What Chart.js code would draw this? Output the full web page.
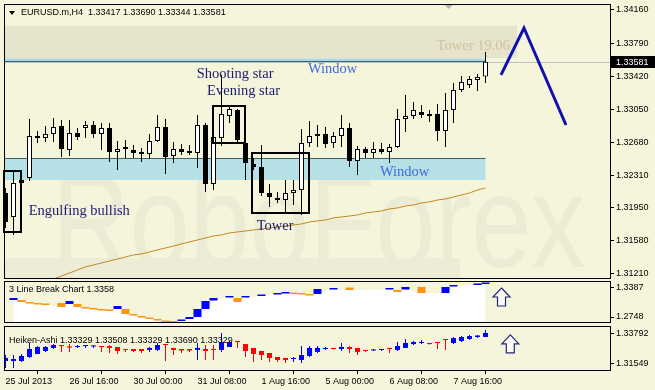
<!DOCTYPE html>
<html>
<head>
<meta charset="utf-8">
<script src="https://cdn.jsdelivr.net/npm/chart.js@4"></script>
<style>
  html, body { margin: 0; padding: 0; background: #F5F5DC; }
  #wrap { position: relative; width: 655px; height: 390px; overflow: hidden; background: #F5F5DC; }
  canvas { position: absolute; left: 0; }
</style>
</head>
<body>
<div id="wrap">
  <canvas id="chartMain" width="655" height="279" style="top:0px"></canvas>
  <canvas id="chartBreak" width="655" height="44" style="top:280px"></canvas>
  <canvas id="chartHeiken" width="655" height="65" style="top:325px"></canvas>
</div>
<script>
// ---- values (H4 bars, index 0 = 25 Jul 2013 00:00) ----
const timeLabels = ['25 Jul 2013', '26 Jul 16:00', '30 Jul 00:00', '31 Jul 08:00', '1 Aug 16:00', '5 Aug 00:00', '6 Aug 08:00', '7 Aug 16:00'];
const timeLabelBars = [0, 8, 16, 24, 32, 40, 48, 56];

const open = [1.32115, 1.31847, 1.32261, 1.32283, 1.32752, 1.32730, 1.32775, 1.32864, 1.32596, 1.32786,
  1.32842, 1.32875, 1.32775, 1.32842, 1.32574, 1.32618, 1.32596, 1.32574, 1.32551, 1.32696,
  1.32853, 1.32529, 1.32607, 1.32585, 1.32562, 1.32875, 1.32216, 1.32730, 1.32976, 1.33043,
  1.32674, 1.32440, 1.32406, 1.32115, 1.32048, 1.32037, 1.32115, 1.32149, 1.32674, 1.32752,
  1.32775, 1.32674, 1.32752, 1.32842, 1.32473, 1.32607, 1.32562, 1.32607, 1.32574, 1.32629,
  1.32942, 1.32976, 1.33020, 1.32998, 1.32998, 1.32808, 1.33043, 1.33266, 1.33322, 1.33378, 1.33417];
const high = [1.32171, 1.32350, 1.32283, 1.32942, 1.32808, 1.32864, 1.32953, 1.32931, 1.32931, 1.32842,
  1.32920, 1.32920, 1.32898, 1.32898, 1.32696, 1.32708, 1.32652, 1.32618, 1.32775, 1.32987,
  1.32942, 1.32685, 1.32663, 1.32652, 1.32987, 1.32898, 1.32764, 1.33434, 1.33099, 1.33054,
  1.32730, 1.32507, 1.32652, 1.32216, 1.32127, 1.32261, 1.32261, 1.32831, 1.32920, 1.32875,
  1.32853, 1.32797, 1.32987, 1.32898, 1.32641, 1.32629, 1.32685, 1.32674, 1.32663, 1.33054,
  1.33210, 1.33132, 1.33099, 1.33043, 1.33110, 1.33233, 1.33345, 1.33423, 1.33423, 1.33445, 1.33690];
const low = [1.31724, 1.31646, 1.32205, 1.32250, 1.32674, 1.32685, 1.32685, 1.32518, 1.32529, 1.32708,
  1.32730, 1.32730, 1.32596, 1.32462, 1.32372, 1.32507, 1.32507, 1.32462, 1.32495, 1.32685,
  1.32328, 1.32451, 1.32540, 1.32540, 1.32395, 1.32127, 1.32149, 1.32641, 1.32898, 1.32685,
  1.32261, 1.32372, 1.32082, 1.31959, 1.32004, 1.31892, 1.31981, 1.31870, 1.32629, 1.32629,
  1.32618, 1.32618, 1.32629, 1.32406, 1.32317, 1.32507, 1.32507, 1.32551, 1.32451, 1.32618,
  1.32797, 1.32942, 1.32953, 1.32909, 1.32696, 1.32629, 1.32898, 1.33244, 1.33289, 1.33255, 1.33344];
const close = [1.31791, 1.32227, 1.32227, 1.32752, 1.32730, 1.32775, 1.32853, 1.32607, 1.32786, 1.32741,
  1.32875, 1.32775, 1.32842, 1.32574, 1.32607, 1.32607, 1.32562, 1.32551, 1.32696, 1.32853,
  1.32518, 1.32607, 1.32574, 1.32562, 1.32875, 1.32216, 1.32741, 1.32998, 1.33054, 1.32708,
  1.32451, 1.32406, 1.32115, 1.32071, 1.32037, 1.32115, 1.32149, 1.32674, 1.32752, 1.32775,
  1.32663, 1.32752, 1.32842, 1.32473, 1.32607, 1.32562, 1.32607, 1.32574, 1.32629, 1.32942,
  1.32976, 1.33043, 1.32987, 1.32976, 1.32808, 1.33043, 1.33266, 1.33356, 1.33389, 1.33412, 1.33581];

// slow moving average (gold line)
const maValues = [1.30976, 1.31009, 1.31043, 1.31065, 1.31099, 1.31121, 1.31154, 1.31188, 1.31221, 1.31255,
  1.31289, 1.31311, 1.31333, 1.31356, 1.31378, 1.31400, 1.31423, 1.31434, 1.31456, 1.31479,
  1.31501, 1.31523, 1.31546, 1.31568, 1.31590, 1.31613, 1.31635, 1.31646, 1.31669, 1.31680,
  1.31691, 1.31702, 1.31713, 1.31724, 1.31736, 1.31747, 1.31758, 1.31769, 1.31791, 1.31803,
  1.31814, 1.31836, 1.31847, 1.31858, 1.31870, 1.31892, 1.31903, 1.31914, 1.31937, 1.31948,
  1.31970, 1.31981, 1.32004, 1.32015, 1.32037, 1.32048, 1.32071, 1.32093, 1.32115, 1.32149, 1.32171];

// forecast zigzag (bar position, price)
const forecastBars = [61.94, 64.81, 70.06];
const forecastPrices = [1.33434, 1.33959, 1.32875];

const priceTicks = [1.34160, 1.33790, 1.33420, 1.33050, 1.32680, 1.32310, 1.31950, 1.31580, 1.31210];
const bidPrice = 1.33581;

// 3 line break blocks, 1 = up (blue), 0 = down (orange), null = nothing
const breakUp = [null, 1, 0, 0, 0, 0, null, 0, 1, 0,
  0, 0, 0, 0, 1, 0, 0, 0, 0, 0,
  0, 0, 1, 1, 1, 1, 1, null, 1, 0,
  1, null, 1, null, 1, 1, 0, 0, 0, 1,
  null, 1, null, 0, null, null, null, null, 1, 0,
  1, null, 0, null, null, 1, 1, null, null, 1, 1];
const breakHigh = [null, 1.3167, 1.3123, 1.3079, 1.3057, 1.3046, null, 1.3057, 1.3101, 1.3035,
  1.2968, 1.2946, 1.2924, 1.2913, 1.2991, 1.2924, 1.2814, 1.2770, 1.2737, 1.2704,
  1.2671, 1.2660, 1.2693, 1.2748, 1.2924, 1.3101, 1.3167, null, 1.3211, 1.3167,
  1.3211, null, 1.3244, null, 1.3277, 1.3299, 1.3288, 1.3277, 1.3255, 1.3365,
  null, 1.3387, null, 1.3398, null, null, null, null, 1.3387, 1.3343,
  1.3409, null, 1.3409, null, null, 1.3409, 1.3453, null, null, 1.3486, 1.3508];
const breakLow = [null, 1.3123, 1.3079, 1.3046, 1.3024, 1.3013, null, 1.2968, 1.3035, 1.2968,
  1.2935, 1.2913, 1.2891, 1.2880, 1.2924, 1.2814, 1.2781, 1.2737, 1.2704, 1.2671,
  1.2638, 1.2627, 1.2660, 1.2704, 1.2748, 1.2924, 1.3112, null, 1.3178, 1.3079,
  1.3178, null, 1.3211, null, 1.3244, 1.3266, 1.3255, 1.3244, 1.3222, 1.3255,
  null, 1.3354, null, 1.3343, null, null, null, null, 1.3354, 1.3299,
  1.3354, null, 1.3277, null, null, 1.3277, 1.3420, null, null, 1.3453, 1.3475];
const breakTicks = [1.3387, 1.2748];

// Heiken-Ashi
const haOpen = [1.3177, 1.3177, 1.3177, 1.3207, 1.3230, 1.3252, 1.3275, 1.3297, 1.3286, 1.3282,
  1.3289, 1.3286, 1.3289, 1.3289, 1.3282, 1.3267, 1.3267, 1.3267, 1.3260, 1.3260,
  1.3304, 1.3275, 1.3267, 1.3267, 1.3260, 1.3267, 1.3267, 1.3260, 1.3282, 1.3327,
  1.3304, 1.3275, 1.3252, 1.3237, 1.3207, 1.3200, 1.3192, 1.3185, 1.3215, 1.3245,
  1.3267, 1.3275, 1.3267, 1.3282, 1.3275, 1.3260, 1.3256, 1.3260, 1.3275, 1.3260,
  1.3275, 1.3304, 1.3312, 1.3312, 1.3319, 1.3342, 1.3312, 1.3327, 1.3342, 1.3357, 1.3357];
const haHigh = [1.3222, 1.3222, 1.3230, 1.3312, 1.3289, 1.3289, 1.3304, 1.3297, 1.3304, 1.3297,
  1.3297, 1.3297, 1.3289, 1.3297, 1.3282, 1.3267, 1.3267, 1.3267, 1.3282, 1.3312,
  1.3304, 1.3275, 1.3267, 1.3267, 1.3312, 1.3297, 1.3297, 1.3387, 1.3327, 1.3327,
  1.3304, 1.3275, 1.3252, 1.3237, 1.3207, 1.3200, 1.3207, 1.3289, 1.3289, 1.3289,
  1.3282, 1.3275, 1.3312, 1.3289, 1.3275, 1.3260, 1.3267, 1.3267, 1.3275, 1.3319,
  1.3342, 1.3327, 1.3334, 1.3312, 1.3319, 1.3342, 1.3357, 1.3364, 1.3372, 1.3372, 1.3409];
const haLow = [1.3125, 1.3125, 1.3170, 1.3200, 1.3230, 1.3245, 1.3267, 1.3245, 1.3245, 1.3275,
  1.3275, 1.3275, 1.3245, 1.3237, 1.3230, 1.3245, 1.3245, 1.3237, 1.3245, 1.3252,
  1.3177, 1.3222, 1.3237, 1.3245, 1.3185, 1.3185, 1.3185, 1.3245, 1.3282, 1.3275,
  1.3207, 1.3170, 1.3185, 1.3170, 1.3170, 1.3162, 1.3170, 1.3162, 1.3207, 1.3237,
  1.3260, 1.3263, 1.3252, 1.3237, 1.3222, 1.3245, 1.3252, 1.3252, 1.3237, 1.3252,
  1.3275, 1.3297, 1.3304, 1.3300, 1.3267, 1.3260, 1.3304, 1.3319, 1.3334, 1.3349, 1.3357];
const haClose = [1.3200, 1.3192, 1.3215, 1.3267, 1.3282, 1.3282, 1.3297, 1.3289, 1.3278, 1.3289,
  1.3297, 1.3293, 1.3282, 1.3275, 1.3252, 1.3260, 1.3252, 1.3252, 1.3275, 1.3297,
  1.3297, 1.3260, 1.3256, 1.3256, 1.3275, 1.3252, 1.3260, 1.3319, 1.3319, 1.3319,
  1.3252, 1.3230, 1.3222, 1.3200, 1.3185, 1.3185, 1.3200, 1.3222, 1.3275, 1.3275,
  1.3275, 1.3267, 1.3282, 1.3267, 1.3245, 1.3252, 1.3263, 1.3267, 1.3267, 1.3289,
  1.3312, 1.3319, 1.3319, 1.3304, 1.3312, 1.3334, 1.3349, 1.3357, 1.3364, 1.3368, 1.3387];
const haTicks = [1.33792, 1.31549];

// ---- chart objects drawn on the price window (bar position, price) ----
const zones = [
  { from: -0.19, to: 63.94, top: 1.33981, bottom: 1.33624, fill: '#E6E4CC', line: null },
  { from: -0.19, to: 60.0, top: 1.33618, bottom: 1.33590, fill: '#A9D8EA', line: 'bottom' },
  { from: -0.19, to: 60.0, top: 1.32507, bottom: 1.32261, fill: '#B4E0E6', line: 'top' }
];
const patternBoxes = [
  { from: -0.19, to: 1.94, top: 1.32361, bottom: 1.31680 },
  { from: 25.94, to: 29.94, top: 1.33088, bottom: 1.32674 },
  { from: 30.81, to: 37.94, top: 1.32562, bottom: 1.31892 }
];
const textLabels = [
  { text: 'Shooting star', bar: 23.9, price: 1.33445, color: '#1B1B72' },
  { text: 'Evening star', bar: 25.2, price: 1.33255, color: '#1B1B72' },
  { text: 'Window', bar: 37.8, price: 1.33501, color: '#4169E1' },
  { text: 'Engulfing bullish', bar: 2.9, price: 1.31914, color: '#1B1B72' },
  { text: 'Tower', bar: 31.4, price: 1.31747, color: '#1B1B72' },
  { text: 'Window', bar: 46.8, price: 1.32350, color: '#4169E1' },
  { text: 'Tower 19.06', bar: 53.9, price: 1.33758, color: '#D3C09E' }
];

const X_MIN = -0.1875, X_MAX = 75.5625;
Chart.defaults.font.family = '"Liberation Sans", Arial, sans-serif';
Chart.defaults.font.size = 9;
Chart.defaults.color = '#000';

function noPad(s) {
  s.paddingTop = 0; s.paddingBottom = 0; s.paddingLeft = 0; s.paddingRight = 0;
}

function rightAxis(min, max, ticks, digits) {
  return {
    position: 'right', min: min, max: max,
    afterBuildTicks: s => { s.ticks = ticks.map(v => ({ value: v })); },
    afterFit: s => { s.width = 45; noPad(s); },
    ticks: { callback: v => v.toFixed(digits), padding: 2, autoSkip: false },
    grid: { drawOnChartArea: false, tickLength: 4, color: '#000' },
    border: { display: false }
  };
}

function frame(chart) {
  const { ctx, chartArea: a } = chart;
  ctx.save();
  ctx.strokeStyle = '#000';
  ctx.lineWidth = 1;
  ctx.strokeRect(a.left + 0.5, a.top + 0.5, a.right - a.left, a.bottom - a.top - 1);
  ctx.restore();
}

function upArrow(ctx, cx, top) {
  ctx.save();
  ctx.beginPath();
  ctx.moveTo(cx, top);
  ctx.lineTo(cx + 8.5, top + 9);
  ctx.lineTo(cx + 4, top + 9);
  ctx.lineTo(cx + 4, top + 18);
  ctx.lineTo(cx - 4, top + 18);
  ctx.lineTo(cx - 4, top + 9);
  ctx.lineTo(cx - 8.5, top + 9);
  ctx.closePath();
  ctx.fillStyle = '#FBFBF2';
  ctx.fill();
  ctx.strokeStyle = '#1E2A78';
  ctx.lineWidth = 1.2;
  ctx.stroke();
  ctx.restore();
}

// faint "RoboForex" watermark, squeezed to a given pixel width
function watermark(ctx, text, left, width, baseline) {
  ctx.save();
  ctx.font = '132px "Liberation Sans", Arial, sans-serif';
  const w = ctx.measureText(text).width;
  ctx.translate(left, baseline);
  ctx.scale(width / w, 1);
  ctx.fillStyle = '#ECEBD6';
  ctx.textBaseline = 'alphabetic';
  ctx.fillText(text, 0, 0);
  ctx.restore();
}

const mainDecor = {
  id: 'mainDecor',
  beforeDatasetsDraw(chart) {
    const { ctx, chartArea: a, scales: { x, y } } = chart;
    ctx.save();
    ctx.beginPath();
    ctx.rect(a.left, a.top, a.right - a.left, a.bottom - a.top);
    ctx.clip();

    ctx.fillStyle = '#EDECD7';
    ctx.fillRect(a.left, a.bottom - 21, 456, 21);
    watermark(ctx, 'RoboForex', 52, 533, 267);

    zones.forEach(z => {
      const x0 = x.getPixelForValue(z.from), x1 = x.getPixelForValue(z.to);
      const y0 = y.getPixelForValue(z.top), y1 = y.getPixelForValue(z.bottom);
      ctx.fillStyle = z.fill;
      ctx.fillRect(x0, y0, x1 - x0, y1 - y0);
      if (z.line) {
        ctx.strokeStyle = '#3F6666';
        ctx.lineWidth = 1;
        const ly = Math.round(z.line === 'top' ? y0 : y1) + 0.5;
        ctx.beginPath();
        ctx.moveTo(x0, ly);
        ctx.lineTo(x1, ly);
        ctx.stroke();
      }
    });

    // bid line
    const by = Math.round(y.getPixelForValue(bidPrice)) + 0.5;
    ctx.strokeStyle = '#C0C0C0';
    ctx.beginPath();
    ctx.moveTo(a.left, by);
    ctx.lineTo(a.right, by);
    ctx.stroke();
    ctx.restore();
  },
  afterDatasetsDraw(chart) {
    const { ctx, scales: { x, y } } = chart;
    ctx.save();
    ctx.strokeStyle = '#000';
    ctx.lineWidth = 2;
    patternBoxes.forEach(b => {
      const x0 = Math.round(x.getPixelForValue(b.from)), x1 = Math.round(x.getPixelForValue(b.to));
      const y0 = Math.round(y.getPixelForValue(b.top)), y1 = Math.round(y.getPixelForValue(b.bottom));
      ctx.strokeRect(x0, y0, x1 - x0, y1 - y0);
    });
    ctx.font = '14.5px "Liberation Serif", "Times New Roman", serif';
    ctx.textBaseline = 'middle';
    ctx.textAlign = 'left';
    textLabels.forEach(t => {
      ctx.fillStyle = t.color;
      ctx.fillText(t.text, x.getPixelForValue(t.bar), y.getPixelForValue(t.price));
    });
    ctx.restore();
  },
  afterDraw(chart) {
    const { ctx, chartArea: a, scales: { x, y } } = chart;
    frame(chart);
    ctx.save();
    // chart shift marker
    const sx = x.getPixelForValue(55.4);
    ctx.fillStyle = '#B4B4B4';
    ctx.beginPath();
    ctx.moveTo(sx - 4, a.top + 1);
    ctx.lineTo(sx + 4, a.top + 1);
    ctx.lineTo(sx, a.top + 5);
    ctx.closePath();
    ctx.fill();
    // title
    ctx.fillStyle = '#000';
    ctx.beginPath();
    ctx.moveTo(a.left + 5, a.top + 7);
    ctx.lineTo(a.left + 11, a.top + 7);
    ctx.lineTo(a.left + 8, a.top + 11);
    ctx.closePath();
    ctx.fill();
    const n = open.length - 1;
    ctx.font = '9px "Liberation Sans", Arial, sans-serif';
    ctx.textBaseline = 'middle';
    ctx.fillText('EURUSD.m,H4  ' + [open[n], high[n], low[n], close[n]].map(v => v.toFixed(5)).join(' '), a.left + 17, a.top + 9);
    // bid tag on the axis
    const by = Math.round(y.getPixelForValue(bidPrice));
    ctx.fillStyle = '#000';
    ctx.fillRect(a.right + 1, by - 6, 44, 12);
    ctx.fillStyle = '#FFF';
    ctx.fillText(bidPrice.toFixed(5), a.right + 6, by + 0.5);
    ctx.restore();
  }
};

new Chart(document.getElementById('chartMain'), {
  type: 'bar',
  data: {
    datasets: [
      {
        label: 'wick',
        data: open.map((o, i) => ({ x: i, y: [low[i], high[i]] })),
        backgroundColor: '#000', barThickness: 1, grouped: false, inflateAmount: 0, order: 3
      },
      {
        label: 'body',
        data: open.map((o, i) => ({ x: i, y: [o, close[i]], up: close[i] >= o })),
        backgroundColor: c => (c.raw && c.raw.up ? '#FFF' : '#000'),
        borderColor: '#000', borderWidth: 1, borderSkipped: false,
        barThickness: 5, minBarLength: 2, grouped: false, inflateAmount: 0, order: 2
      },
      {
        type: 'line', label: 'MA',
        data: maValues.map((v, i) => ({ x: i, y: v })),
        borderColor: '#C08A1C', borderWidth: 1, pointRadius: 0, order: 1
      },
      {
        type: 'line', label: 'forecast',
        data: forecastBars.map((b, i) => ({ x: b, y: forecastPrices[i] })),
        borderColor: '#1010B0', borderWidth: 3, pointRadius: 0, order: 0
      }
    ]
  },
  options: {
    responsive: false, animation: false,
    layout: { autoPadding: false, padding: { left: 4, top: 4, right: 0, bottom: 0 } },
    plugins: { legend: { display: false }, tooltip: { enabled: false } },
    scales: {
      x: { type: 'linear', min: X_MIN, max: X_MAX, offset: false, display: false },
      y: rightAxis(1.31154, 1.34227, priceTicks, 5)
    }
  },
  plugins: [mainDecor]
});

// ---- 3 Line Break panel ----
const breakDecor = {
  id: 'breakDecor',
  afterDraw(chart) {
    const { ctx, chartArea: a, scales: { x, y } } = chart;
    frame(chart);
    ctx.save();
    ctx.fillStyle = '#000';
    ctx.font = '9px "Liberation Sans", Arial, sans-serif';
    ctx.textBaseline = 'middle';
    ctx.fillText('3 Line Break Chart 1.3358', a.left + 5, a.top + 9);
    ctx.restore();
    upArrow(ctx, x.getPixelForValue(62.0), y.getPixelForValue(1.3387));
  }
};

const breakBlocks = [];
breakHigh.forEach((h, i) => {
  if (h !== null) breakBlocks.push({ x: i, y: [breakLow[i], h], up: breakUp[i] === 1 });
});

new Chart(document.getElementById('chartBreak'), {
  type: 'bar',
  data: {
    datasets: [
      {
        type: 'line', label: 'area',
        data: breakLow.map((v, i) => ({ x: i, y: v })),
        fill: 'start', backgroundColor: '#FFFFFF', borderWidth: 0, pointRadius: 0,
        spanGaps: true, order: 2
      },
      {
        label: 'blocks', data: breakBlocks,
        backgroundColor: c => (c.raw && c.raw.up ? '#0000FF' : '#FF9411'),
        barThickness: 8, minBarLength: 1, grouped: false, inflateAmount: 0, order: 1
      }
    ]
  },
  options: {
    responsive: false, animation: false,
    layout: { autoPadding: false, padding: { left: 4, top: 1, right: 0, bottom: 1 } },
    plugins: { legend: { display: false }, tooltip: { enabled: false } },
    scales: {
      x: { type: 'linear', min: X_MIN, max: X_MAX, offset: false, display: false },
      y: rightAxis(1.26160, 1.35412, breakTicks, 4)
    }
  },
  plugins: [breakDecor]
});

// ---- Heiken-Ashi panel ----
const haDecor = {
  id: 'haDecor',
  afterDraw(chart) {
    const { ctx, chartArea: a, scales: { x, y } } = chart;
    frame(chart);
    ctx.save();
    ctx.fillStyle = '#000';
    ctx.font = '9px "Liberation Sans", Arial, sans-serif';
    ctx.textBaseline = 'middle';
    ctx.fillText('Heiken-Ashi 1.33329 1.33508 1.33329 1.33690 1.33329', a.left + 5, a.top + 15);
    ctx.restore();
    upArrow(ctx, x.getPixelForValue(63.1), y.getPixelForValue(1.3372));
  }
};

const haColor = c => (c.raw && c.raw.up ? '#0000FF' : '#FF0000');

new Chart(document.getElementById('chartHeiken'), {
  type: 'bar',
  data: {
    datasets: [
      {
        label: 'ha wick',
        data: haOpen.map((o, i) => ({ x: i, y: [haLow[i], haHigh[i]], up: haClose[i] >= o })),
        backgroundColor: haColor, barThickness: 1, grouped: false, inflateAmount: 0, order: 2
      },
      {
        label: 'ha body',
        data: haOpen.map((o, i) => ({ x: i, y: [o, haClose[i]], up: haClose[i] >= o })),
        backgroundColor: haColor, barThickness: 5, minBarLength: 1, grouped: false, inflateAmount: 0, order: 1
      }
    ]
  },
  options: {
    responsive: false, animation: false,
    layout: { autoPadding: false, padding: { left: 4, top: 1, right: 0, bottom: 0 } },
    plugins: { legend: { display: false }, tooltip: { enabled: false } },
    scales: {
      x: {
        type: 'linear', min: X_MIN, max: X_MAX, offset: false, position: 'bottom',
        afterBuildTicks: s => { s.ticks = timeLabelBars.map(v => ({ value: v })); },
        afterFit: s => { s.height = 19; noPad(s); },
        ticks: { callback: (v, i) => timeLabels[i], align: 'start', maxRotation: 0, autoSkip: false, padding: 2 },
        grid: { drawOnChartArea: false, tickLength: 3, color: '#000' },
        border: { display: false }
      },
      y: rightAxis(1.31025, 1.34390, haTicks, 5)
    }
  },
  plugins: [haDecor]
});
</script>
</body>
</html>
